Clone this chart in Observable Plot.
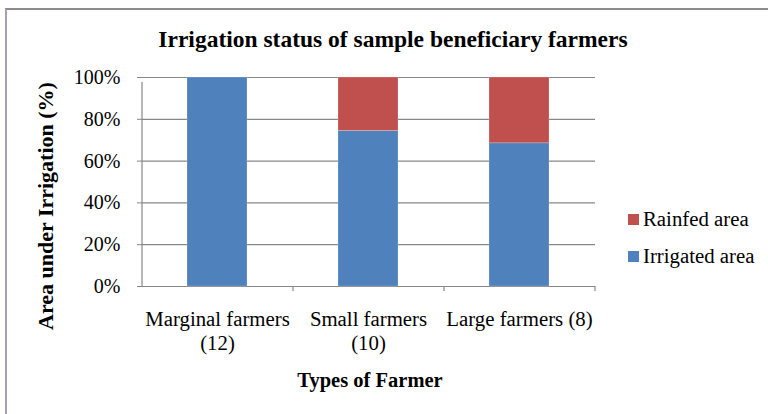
<!DOCTYPE html>
<html>
<head>
<meta charset="utf-8">
<script src="https://cdn.jsdelivr.net/npm/d3@7"></script>
<script src="https://cdn.jsdelivr.net/npm/@observablehq/plot@0.6"></script>
<style>
  html, body { margin: 0; padding: 0; background: #fff; }
  #wrap { position: relative; width: 768px; height: 414px; overflow: hidden; font-family: "Liberation Serif", "Times New Roman", serif; color: #000; }
  #wrap svg { position: absolute; left: 0; top: 0; font-family: "Liberation Serif", "Times New Roman", serif !important; }
  #wrap svg text, #wrap svg g { font-family: "Liberation Serif", "Times New Roman", serif !important; }
  .frame { position: absolute; left: 5px; top: 8px; width: 900px; height: 600px; border-top: 2px solid #8c8c8c; border-left: 2px solid #ab9fb3; }
  .t { position: absolute; white-space: nowrap; line-height: 1; }
  .title { left: 393px; top: 28px; transform: translateX(-50%); font-size: 23.5px; font-weight: bold; }
  .xlab { left: 370px; top: 370px; transform: translateX(-50%); font-size: 20.5px; font-weight: bold; }
  .ylab { left: 46px; top: 206px; transform: translate(-50%, -50%) rotate(-90deg); font-size: 22px; font-weight: bold; }
  .leg { position: absolute; left: 628px; font-size: 20.8px; line-height: 1; white-space: nowrap; }
  .leg span.sw { position: absolute; left: 0; width: 11px; height: 11px; }
  .leg span.lt { position: absolute; left: 15px; }
</style>
</head>
<body>
<div id="wrap">
  <div class="frame"></div>
</div>
<script>
const categories = ["Marginal farmers (12)", "Small farmers (10)", "Large farmers (8)"];
const tickLabels = ["Marginal farmers\n(12)", "Small farmers\n(10)", "Large farmers (8)"];
const irrigated = [1.00, 0.744, 0.685];
const rainfed = [0.00, 0.256, 0.315];
const seriesNames = ["Rainfed area", "Irrigated area"];
const seriesColors = ["#c0504d", "#4f81bd"];
const yTicks = [0, 0.2, 0.4, 0.6, 0.8, 1.0];
const chartTitle = "Irrigation status of sample beneficiary farmers";
const xTitle = "Types of Farmer";
const yTitle = "Area under Irrigation (%)";

const W = 768, H = 414;
const mL = 142, mR = 173, mT = 77, mB = 128;
const step = (W - mL - mR) / categories.length;
const serif = "'Liberation Serif', 'Times New Roman', serif";

const rows = [];
categories.forEach((c, i) => {
  rows.push({cat: c, series: "Irrigated area", value: irrigated[i]});
  rows.push({cat: c, series: "Rainfed area", value: rainfed[i]});
});

const gridColor = "#878787";

const chart = Plot.plot({
  width: W,
  height: H,
  marginLeft: mL,
  marginRight: mR,
  marginTop: mT,
  marginBottom: mB,
  style: {fontFamily: serif, fontSize: "20px", color: "#000", background: "transparent"},
  x: {domain: categories, paddingInner: 0.6, paddingOuter: 0.3, axis: null},
  y: {domain: [0, 1], axis: null},
  color: {domain: ["Irrigated area", "Rainfed area"], range: ["#4f81bd", "#c0504d"]},
  marks: [
    Plot.gridY(yTicks, {stroke: gridColor, strokeOpacity: 1, strokeWidth: 1.2}),
    Plot.barY(rows, Plot.stackY({x: "cat", y: "value", fill: "series", order: ["Irrigated area", "Rainfed area"], stroke: "#ffffff", strokeOpacity: 0.35, strokeWidth: 0.6})),
    Plot.ruleX([categories[0]], {x: d => d, y1: 0, y2: 1, dx: -step / 2, insetBottom: -5, stroke: gridColor, strokeWidth: 1.2}),
    Plot.ruleX(categories.slice(1), {x: d => d, y1: 0, y2: 0, dx: -step / 2, insetBottom: -5, stroke: gridColor, strokeWidth: 1.2}),
    Plot.ruleX([categories[categories.length - 1]], {x: d => d, y1: 0, y2: 0, dx: step / 2, insetBottom: -5, stroke: gridColor, strokeWidth: 1.2}),
    Plot.axisY(yTicks, {anchor: "left", tickSize: 5, tickPadding: 17, stroke: gridColor, tickFormat: d3.format(".0%"), fontSize: 20, fontFamily: serif, label: null}),
    Plot.axisX({anchor: "bottom", tickSize: 0, tickPadding: 23, tickFormat: (d) => tickLabels[categories.indexOf(d)], lineHeight: 1.15, fontSize: 20.8, fontFamily: serif, label: null})
  ]
});

const wrap = document.getElementById("wrap");
wrap.appendChild(chart);

function addText(cls, txt) {
  const d = document.createElement("div");
  d.className = "t " + cls;
  d.textContent = txt;
  wrap.appendChild(d);
}
addText("title", chartTitle);
addText("xlab", xTitle);
addText("ylab", yTitle);

const legendTops = [209, 246];
seriesNames.forEach((name, i) => {
  const g = document.createElement("div");
  g.className = "leg";
  g.style.top = legendTops[i] + "px";
  const sw = document.createElement("span");
  sw.className = "sw";
  sw.style.background = seriesColors[i];
  sw.style.top = "5px";
  const lt = document.createElement("span");
  lt.className = "lt";
  lt.textContent = name;
  g.appendChild(sw);
  g.appendChild(lt);
  wrap.appendChild(g);
});
</script>
</body>
</html>
